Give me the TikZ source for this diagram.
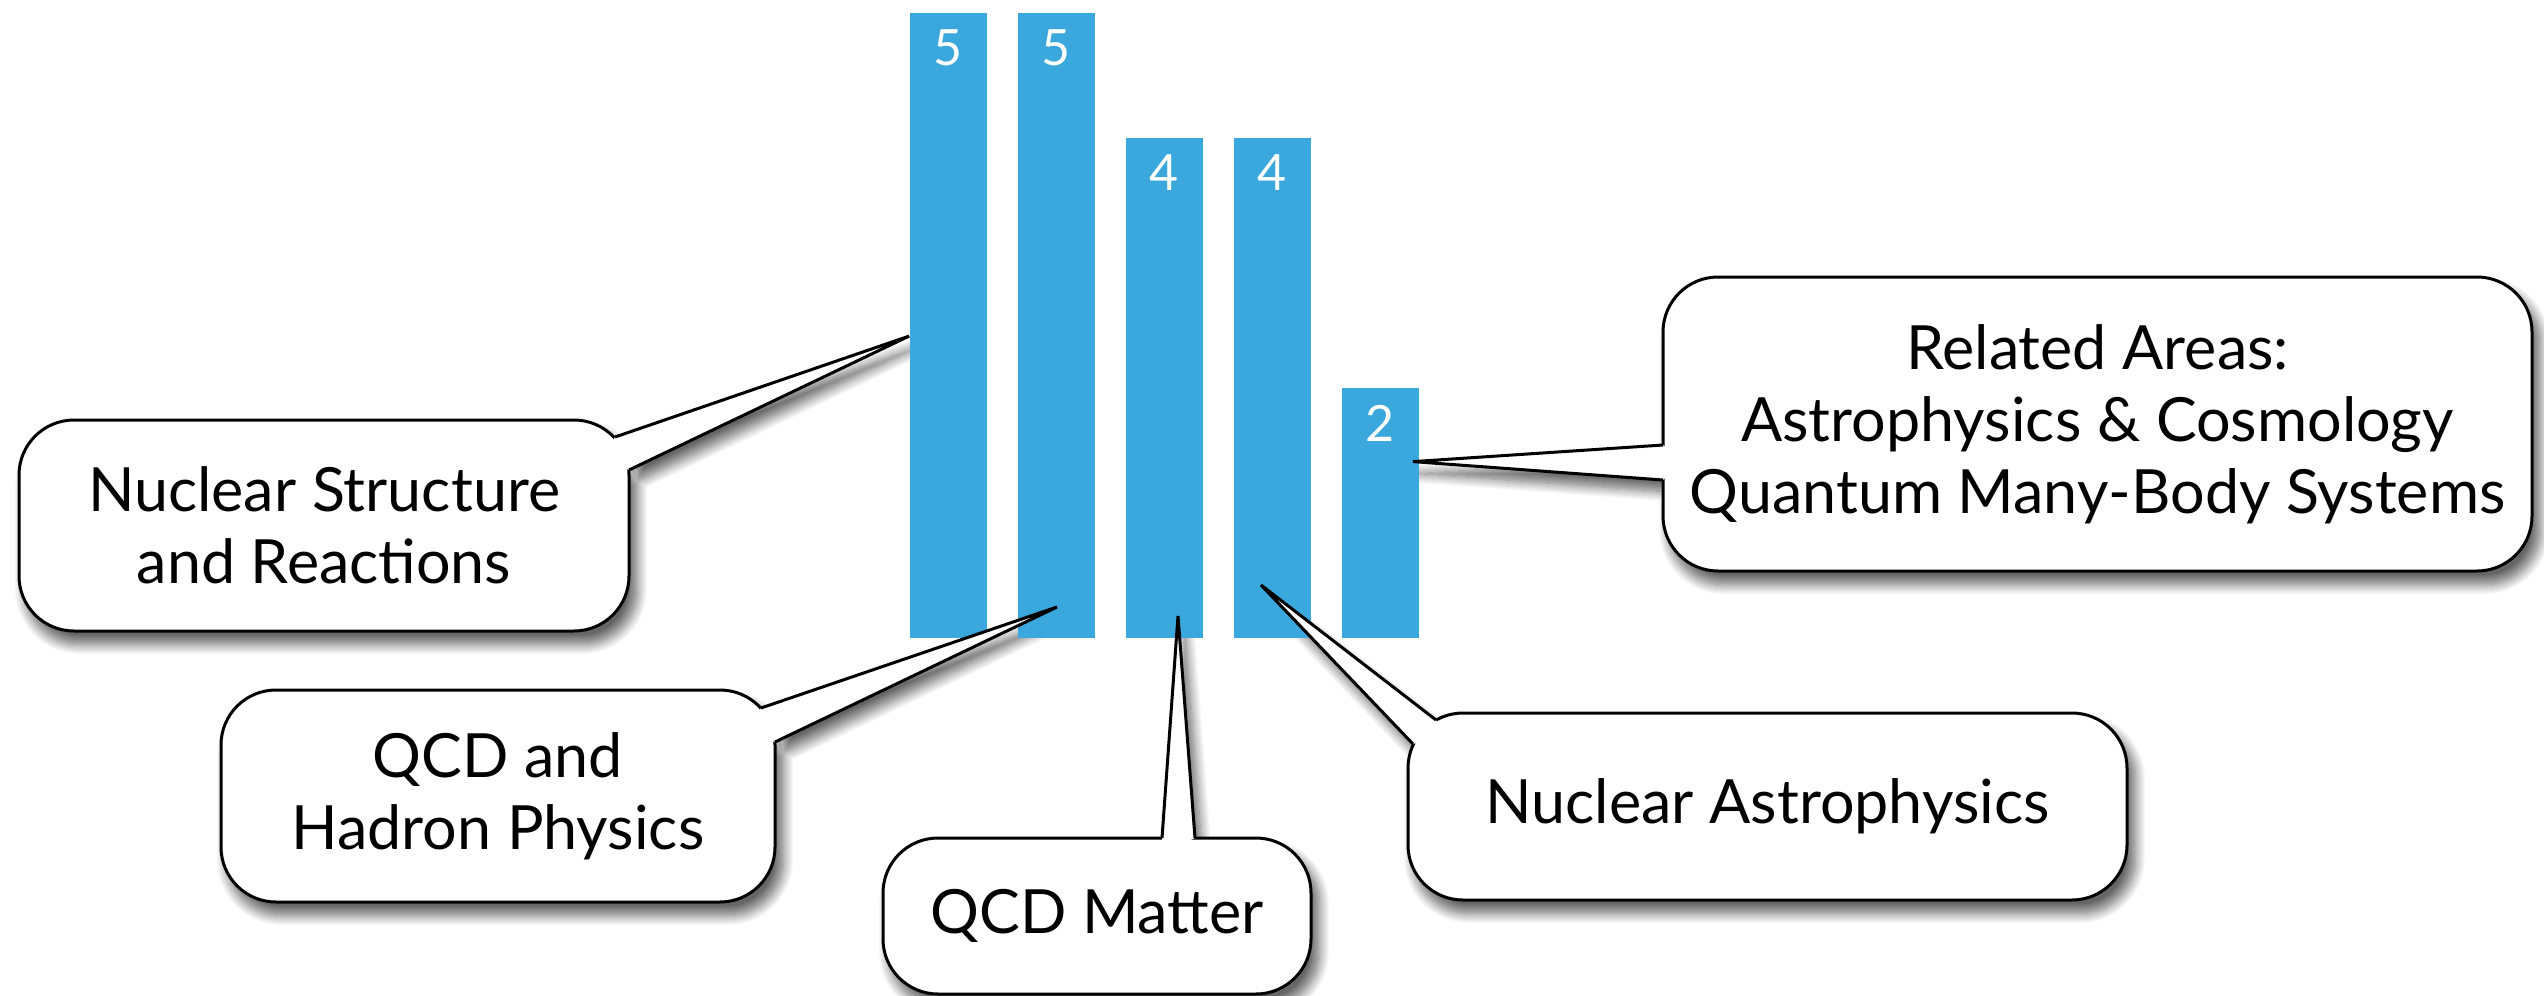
\documentclass[tikz,border=0pt]{standalone}
\usepackage{fontspec}
\setmainfont{Lato}
\usetikzlibrary{calc,backgrounds,shadows.blur}
\definecolor{barblue}{RGB}{58,168,221}
\tikzset{bar/.style={rectangle,fill=barblue,inner sep=0pt,minimum width=38.5pt,anchor=south},num/.style={text=white,inner sep=0pt,font=\fontsize{25}{25}\selectfont},bubble/.style={rectangle,rounded corners=27.5pt,draw=black,line width=1.5pt,fill=white,align=center,inner sep=0pt,font=\fontsize{30.5}{36}\selectfont},tail/.style={draw=black,line width=1.5pt,line join=bevel},tailfill/.style={fill=white},callshadow/.style={blur shadow={shadow xshift=3.5pt,shadow yshift=-6pt,shadow opacity=60,shadow blur radius=5pt,shadow blur steps=12}}}

\begin{document}
\begin{tikzpicture}[x=0.5pt,y=-0.5pt]
\useasboundingbox (0,0) rectangle (2544,996);

%bars
\node[bar,minimum height=312.5pt] (bar1) at (948,638) {};
\node[bar,minimum height=312.5pt] (bar2) at (1056,638) {};
\node[bar,minimum height=250pt] (bar3) at (1164,638) {};
\node[bar,minimum height=250pt] (bar4) at (1272,638) {};
\node[bar,minimum height=125pt] (bar5) at (1380,638) {};
\node[num] at (bar1.north)[below=8.75pt] {5};
\node[num] at (bar2.north)[below=8.75pt] {5};
\node[num] at (bar3.north)[below=8.75pt] {4};
\node[num] at (bar4.north)[below=8.75pt] {4};
\node[num] at (bar5.north)[below=8.75pt] {2};

%nuclear structure
\node[bubble,minimum width=305pt,minimum height=105.5pt] (nsr) at (324,525.5) {Nuclear Structure\\and Reactions};
\coordinate (nsr-tip) at ($(bar1.west)+(0,11)$);
\coordinate (nsr-a) at (615,437);
\coordinate (nsr-b) at (629,470);
\fill[tailfill] (nsr-a) -- (nsr-tip) -- (nsr-b) -- ($(nsr-a)!0.5!(nsr-b)!10pt!(nsr.center)$) -- cycle;
\draw[tail] (nsr-a) -- (nsr-tip) -- (nsr-b);

%qcd and hadrons
\node[bubble,minimum width=277pt,minimum height=106pt] (qhp) at (498,796) {QCD and\\Hadron Physics};
\coordinate (qhp-tip) at ($(bar2.south)+(1,-31)$);
\coordinate (qhp-a) at (761,708);
\coordinate (qhp-b) at (775,742);
\fill[tailfill] (qhp-a) -- (qhp-tip) -- (qhp-b) -- ($(qhp-a)!0.5!(qhp-b)!10pt!(qhp.center)$) -- cycle;
\draw[tail] (qhp-a) -- (qhp-tip) -- (qhp-b);

%qcd matter
\node[bubble,minimum width=214pt,minimum height=78pt] (qcm) at (1097,916) {QCD Matter};
\coordinate (qcm-tip) at ($(bar3.south)+(14,-22)$);
\coordinate (qcm-a) at (1162,838);
\coordinate (qcm-b) at (1195,838);
\fill[tailfill] (qcm-a) -- (qcm-tip) -- (qcm-b) -- ($(qcm-a)!0.5!(qcm-b)!10pt!(qcm.center)$) -- cycle;
\draw[tail] (qcm-a) -- (qcm-tip) -- (qcm-b);

%nuclear astrophysics
\node[bubble,minimum width=359.5pt,minimum height=93.5pt] (nap) at (1767.5,806.5) {Nuclear Astrophysics};
\coordinate (nap-tip) at ($(bar4.south)+(-11,-53)$);
\coordinate (nap-a) at (1436,720);
\coordinate (nap-b) at (1413,744);
\fill[tailfill] (nap-a) -- (nap-tip) -- (nap-b) -- ($(nap-a)!0.5!(nap-b)!10pt!(nap.center)$) -- cycle;
\draw[tail] (nap-a) -- (nap-tip) -- (nap-b);

%related areas
\node[bubble,minimum width=434.5pt,minimum height=147pt] (rel) at (2097.5,424) {Related Areas:\\Astrophysics \& Cosmology\\Quantum Many-Body Systems};
\coordinate (rel-tip) at ($(bar5.east)+(-6,-51)$);
\coordinate (rel-a) at (1663,445);
\coordinate (rel-b) at (1663,480);
\fill[tailfill] (rel-a) -- (rel-tip) -- (rel-b) -- ($(rel-a)!0.5!(rel-b)!10pt!(rel.center)$) -- cycle;
\draw[tail] (rel-a) -- (rel-tip) -- (rel-b);

%shadows
\begin{pgfonlayer}{background}
\path[callshadow] [rounded corners=27.5pt] (nsr.south west) rectangle (nsr.north east) [sharp corners] (nsr-a) -- (nsr-tip) -- (nsr-b) -- cycle;
\path[callshadow] [rounded corners=27.5pt] (qhp.south west) rectangle (qhp.north east) [sharp corners] (qhp-a) -- (qhp-tip) -- (qhp-b) -- cycle;
\path[callshadow] [rounded corners=27.5pt] (qcm.south west) rectangle (qcm.north east) [sharp corners] (qcm-a) -- (qcm-tip) -- (qcm-b) -- cycle;
\path[callshadow] [rounded corners=27.5pt] (nap.south west) rectangle (nap.north east) [sharp corners] (nap-a) -- (nap-tip) -- (nap-b) -- cycle;
\path[callshadow] [rounded corners=27.5pt] (rel.south west) rectangle (rel.north east) [sharp corners] (rel-a) -- (rel-tip) -- (rel-b) -- cycle;
\end{pgfonlayer}
\end{tikzpicture}
\end{document}
